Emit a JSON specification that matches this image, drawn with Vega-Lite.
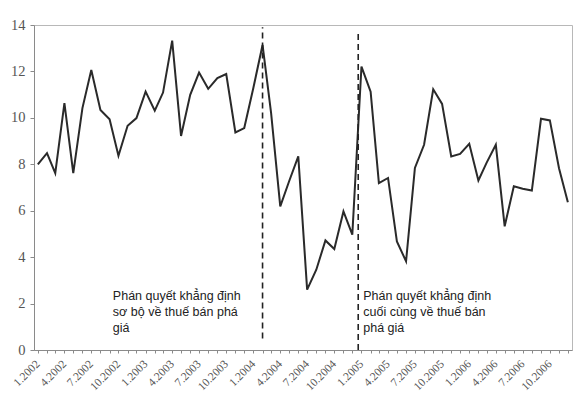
{
  "$schema": "https://vega.github.io/schema/vega-lite/v6.json",
  "width": 538,
  "height": 325,
  "autosize": {"type": "none"},
  "padding": {"left": 34, "top": 25, "right": 6, "bottom": 52},
  "background": "white",
  "config": {
    "view": {"stroke": "#b8b8b8", "strokeWidth": 1},
    "axis": {"grid": false, "domainColor": "#8a8a8a", "tickColor": "#8a8a8a", "labelFont": "Liberation Serif", "labelColor": "#555"}
  },
  "encoding": {
    "x": {
      "field": "date",
      "type": "temporal",
      "scale": {"domain": [{"year": 2001, "month": 12, "date": 19}, {"year": 2006, "month": 12, "date": 15}]},
      "axis": {
        "title": null,
        "tickCount": {"interval": "month", "step": 1},
        "labelExpr": "month(datum.value) % 3 == 0 ? timeFormat(datum.value, '%-m.%Y') : ''",
        "labelAngle": -45,
        "labelAlign": "right",
        "labelBaseline": "middle",
        "labelFontSize": 11.5,
        "labelPadding": 9,
        "labelOverlap": false,
        "labelBound": false,
        "labelFlush": false,
        "tickSize": 3
      }
    }
  },
  "layer": [
    {
      "data": {
        "values": [
          {"date": "2002-01", "value": 8.0}, {"date": "2002-02", "value": 8.48}, {"date": "2002-03", "value": 7.62},
          {"date": "2002-04", "value": 10.63}, {"date": "2002-05", "value": 7.62}, {"date": "2002-06", "value": 10.42},
          {"date": "2002-07", "value": 12.06}, {"date": "2002-08", "value": 10.34}, {"date": "2002-09", "value": 9.94},
          {"date": "2002-10", "value": 8.37}, {"date": "2002-11", "value": 9.66}, {"date": "2002-12", "value": 9.99},
          {"date": "2003-01", "value": 11.13}, {"date": "2003-02", "value": 10.31}, {"date": "2003-03", "value": 11.09},
          {"date": "2003-04", "value": 13.33}, {"date": "2003-05", "value": 9.22}, {"date": "2003-06", "value": 10.99},
          {"date": "2003-07", "value": 11.95}, {"date": "2003-08", "value": 11.25}, {"date": "2003-09", "value": 11.71},
          {"date": "2003-10", "value": 11.89}, {"date": "2003-11", "value": 9.37}, {"date": "2003-12", "value": 9.56},
          {"date": "2004-01", "value": 11.3}, {"date": "2004-02", "value": 13.14}, {"date": "2004-03", "value": 10.2},
          {"date": "2004-04", "value": 6.19}, {"date": "2004-05", "value": 7.27}, {"date": "2004-06", "value": 8.34},
          {"date": "2004-07", "value": 2.6}, {"date": "2004-08", "value": 3.46}, {"date": "2004-09", "value": 4.72},
          {"date": "2004-10", "value": 4.35}, {"date": "2004-11", "value": 5.97}, {"date": "2004-12", "value": 4.97},
          {"date": "2005-01", "value": 12.21}, {"date": "2005-02", "value": 11.13}, {"date": "2005-03", "value": 7.19},
          {"date": "2005-04", "value": 7.41}, {"date": "2005-05", "value": 4.68}, {"date": "2005-06", "value": 3.82},
          {"date": "2005-07", "value": 7.84}, {"date": "2005-08", "value": 8.84}, {"date": "2005-09", "value": 11.23},
          {"date": "2005-10", "value": 10.6}, {"date": "2005-11", "value": 8.34}, {"date": "2005-12", "value": 8.45},
          {"date": "2006-01", "value": 8.88}, {"date": "2006-02", "value": 7.3}, {"date": "2006-03", "value": 8.07},
          {"date": "2006-04", "value": 8.84}, {"date": "2006-05", "value": 5.33}, {"date": "2006-06", "value": 7.05},
          {"date": "2006-07", "value": 6.95}, {"date": "2006-08", "value": 6.87}, {"date": "2006-09", "value": 9.96},
          {"date": "2006-10", "value": 9.89}, {"date": "2006-11", "value": 7.83}, {"date": "2006-12", "value": 6.36}
        ],
        "format": {"parse": {"date": "date:'%Y-%m'"}}
      },
      "mark": {"type": "line", "color": "#2a2a2a", "strokeWidth": 2, "strokeJoin": "miter"},
      "encoding": {
        "y": {
          "field": "value",
          "type": "quantitative",
          "scale": {"domain": [0, 14], "nice": false},
          "axis": {
            "title": null,
            "values": [0, 2, 4, 6, 8, 10, 12, 14],
            "labelFontSize": 14.5,
            "labelPadding": 5,
            "tickSize": 4
          }
        }
      }
    },
    {
      "data": {
        "values": [
          {"date": "2004-02-01", "start": 0.5, "end": 13.9},
          {"date": "2004-12-21", "start": 0, "end": 13.65}
        ],
        "format": {"parse": {"date": "date:'%Y-%m-%d'"}}
      },
      "mark": {"type": "rule", "color": "#222", "strokeWidth": 1.6, "strokeDash": [6, 4]},
      "encoding": {
        "y": {"field": "start", "type": "quantitative"},
        "y2": {"field": "end"}
      }
    },
    {
      "data": {
        "values": [
          {"date": "2002-09-12", "value": 2.6, "label": "Phán quyết khẳng định\nsơ bộ về thuế bán phá\ngiá"},
          {"date": "2005-01-07", "value": 2.6, "label": "Phán quyết khẳng định\ncuối cùng về thuế bán\nphá giá"}
        ],
        "format": {"parse": {"date": "date:'%Y-%m-%d'"}}
      },
      "mark": {"type": "text", "align": "left", "baseline": "top", "font": "Liberation Sans", "fontSize": 12.5, "lineHeight": 16, "lineBreak": "\n", "letterSpacing": 0.35, "color": "#222"},
      "encoding": {
        "y": {"field": "value", "type": "quantitative"},
        "text": {"field": "label"}
      }
    }
  ]
}
